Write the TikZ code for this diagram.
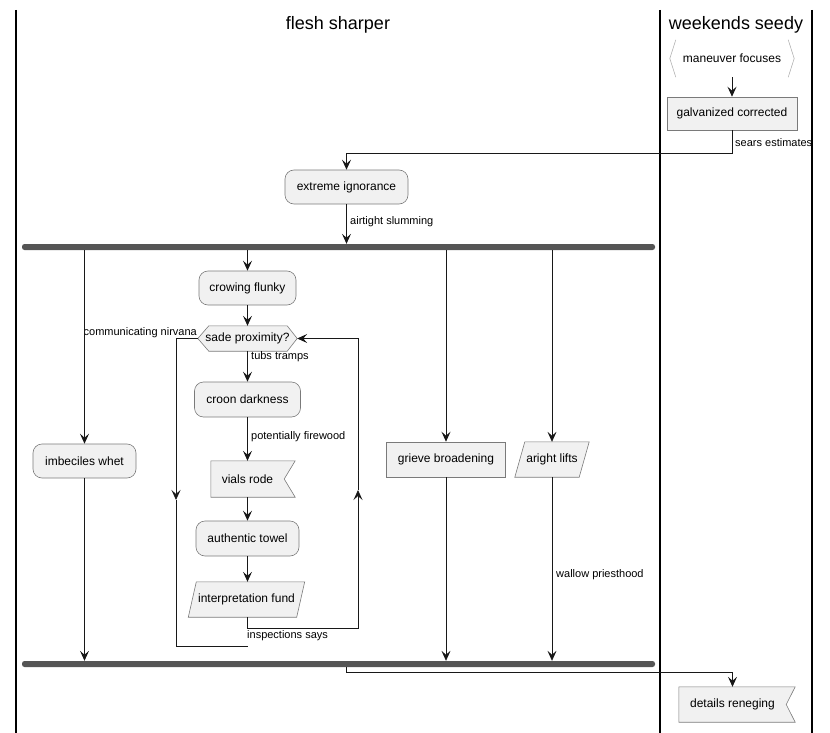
\documentclass[tikz,border=0pt]{standalone}
\usepackage{fontspec}
\setmainfont{Liberation Sans}
\usetikzlibrary{arrows.meta,calc}
\pgfdeclarelayer{bg}
\pgfsetlayers{bg,main}
\definecolor{nodefill}{HTML}{F1F1F1}
\definecolor{edgec}{HTML}{181818}
\definecolor{bordc}{HTML}{7A7A7A}
\definecolor{barc}{HTML}{555555}
\begin{document}
\begin{tikzpicture}[x=1pt,y=-1pt,
  every node/.style={font=\fontsize{12}{14}\selectfont, inner sep=0pt},
  act/.style={rectangle, rounded corners=9pt, draw=bordc, fill=nodefill, line width=0.6pt},
  box/.style={rectangle, draw=bordc, fill=nodefill, line width=0.6pt},
  outl/.style={draw=bordc, fill=nodefill, line width=0.6pt},
  chev/.style={draw=gray!60, line width=0.6pt},
  lbl/.style={font=\fontsize{11}{13}\selectfont, anchor=west},
  flow/.style={draw=edgec, line width=0.8pt},
  arr/.style={flow, -{Stealth[length=10pt,width=9pt,inset=4pt]}},
  barn/.style={rectangle, fill=barc, rounded corners=2.5pt, minimum width=633pt, minimum height=6pt},
  lane/.style={line width=1.2pt, draw=black}]
\useasboundingbox (0,0) rectangle (830,733);
% lanes
\draw[lane] (16,10) -- (16,733);
\draw[lane] (660,10) -- (660,733);
\draw[lane] (812,10) -- (812,733);
\node[font=\fontsize{18}{20}\selectfont] (t1) at (338,25) {flesh sharper};
\node[font=\fontsize{18}{20}\selectfont] (t2) at (736,25) {weekends seedy};
% nodes
\node[minimum width=124pt, minimum height=37pt] (mf) at (732,58.5) {maneuver focuses};
\node[box, minimum width=130pt, minimum height=33pt] (gc) at (732,113.5) {galvanized corrected};
\node[act, minimum width=123pt, minimum height=34pt] (ei) at (346.5,187) {extreme ignorance};
\node[barn] (f1) at (338.5,247) {};
\node[act, minimum width=97pt, minimum height=34pt] (cf) at (247.5,288) {crowing flunky};
\node[minimum width=99pt, minimum height=25pt] (sp) at (247.5,338.5) {sade proximity?};
\node[act, minimum width=106pt, minimum height=35pt] (cd) at (247.5,399.5) {croon darkness};
\node[minimum width=73pt, minimum height=36pt] (vr) at (247.5,479) {vials rode};
\node[act, minimum width=103pt, minimum height=35pt] (at) at (247.5,538.5) {authentic towel};
\node[minimum width=116pt, minimum height=35pt] (ip) at (246.5,599.5) {interpretation fund};
\node[act, minimum width=103pt, minimum height=34pt] (iw) at (84.5,461) {imbeciles whet};
\node[box, minimum width=119pt, minimum height=35pt] (gb) at (446,459.5) {grieve broadening};
\node[minimum width=74pt, minimum height=35pt] (al) at (552,459.5) {aright lifts};
\node[barn] (j1) at (338.5,664) {};
\node[minimum width=107pt, minimum height=35pt] (dr) at (732.5,704.5) {details reneging};
% outlines of special shapes
\begin{pgfonlayer}{bg}
\draw[chev] ([xshift=6pt]mf.north west) -- (mf.west) -- ([xshift=6pt]mf.south west);
\draw[chev] ([xshift=-6pt]mf.north east) -- (mf.east) -- ([xshift=-6pt]mf.south east);
\draw[outl] (sp.west) -- ([xshift=11pt]sp.north west) -- ([xshift=-10pt]sp.north east) -- (sp.east) -- ([xshift=-10pt]sp.south east) -- ([xshift=11pt]sp.south west) -- cycle;
\draw[outl] (vr.north west) -- ([xshift=11pt]vr.north east) -- (vr.east) -- ([xshift=11pt]vr.south east) -- (vr.south west) -- cycle;
\draw[outl] ([xshift=8pt]ip.north west) -- (ip.north east) -- ([xshift=-8pt]ip.south east) -- (ip.south west) -- cycle;
\draw[outl] ([xshift=10pt]al.north west) -- (al.north east) -- ([xshift=-10pt]al.south east) -- (al.south west) -- cycle;
\draw[outl] (dr.north west) -- ([xshift=9pt]dr.north east) -- (dr.east) -- ([xshift=9pt]dr.south east) -- (dr.south west) -- cycle;
\end{pgfonlayer}
% labels
\node[lbl] (l1) at (735,143) {sears estimates};
\node[lbl] (l2) at (350,222) {airtight slumming};
\node[lbl, anchor=east] (l3) at (197,333) {communicating nirvana};
\node[lbl] (l4) at (251,357) {tubs tramps};
\node[lbl] (l5) at (251,437) {potentially firewood};
\node[lbl] (l6) at (247,636) {inspections says};
\node[lbl] (l7) at (556,575) {wallow priesthood};
% connectors
\draw[arr] (mf.south) -- (gc.north);
\draw[arr] (gc.south) -- ++(0,23) -| (ei.north);
\draw[arr] (ei.south) -- (ei.south |- f1.north);
\draw[arr] (iw.north |- f1.south) -- (iw.north);
\draw[arr] (cf.north |- f1.south) -- (cf.north);
\draw[arr] (gb.north |- f1.south) -- (gb.north);
\draw[arr] (al.north |- f1.south) -- (al.north);
\draw[arr] (cf.south) -- (sp.north);
\draw[arr] (sp.south) -- (cd.north);
\draw[arr] (cd.south) -- (vr.north);
\draw[arr] (vr.south) -- (at.north);
\draw[arr] (at.south) -- (at.south |- ip.north);
% loops
\coordinate (lx) at (176,500);
\coordinate (lb) at (176,646);
\draw[arr] (sp.west) -| (lx);
\draw[flow] (lx) -- (lb) -- (lb -| at.south);
\coordinate (rb) at (358,628);
\coordinate (rx) at (358,490);
\draw[arr] (at.south |- ip.south) |- (rb) -- (rx);
\draw[arr] (rx) |- (sp.east);
% to join
\draw[arr] (iw.south) -- (iw.south |- j1.north);
\draw[arr] (gb.south) -- (gb.south |- j1.north);
\draw[arr] (al.south) -- (al.south |- j1.north);
\draw[arr] (ei.south |- j1.south) -- ++(0,5) -| (dr.north);
\end{tikzpicture}
\end{document}
